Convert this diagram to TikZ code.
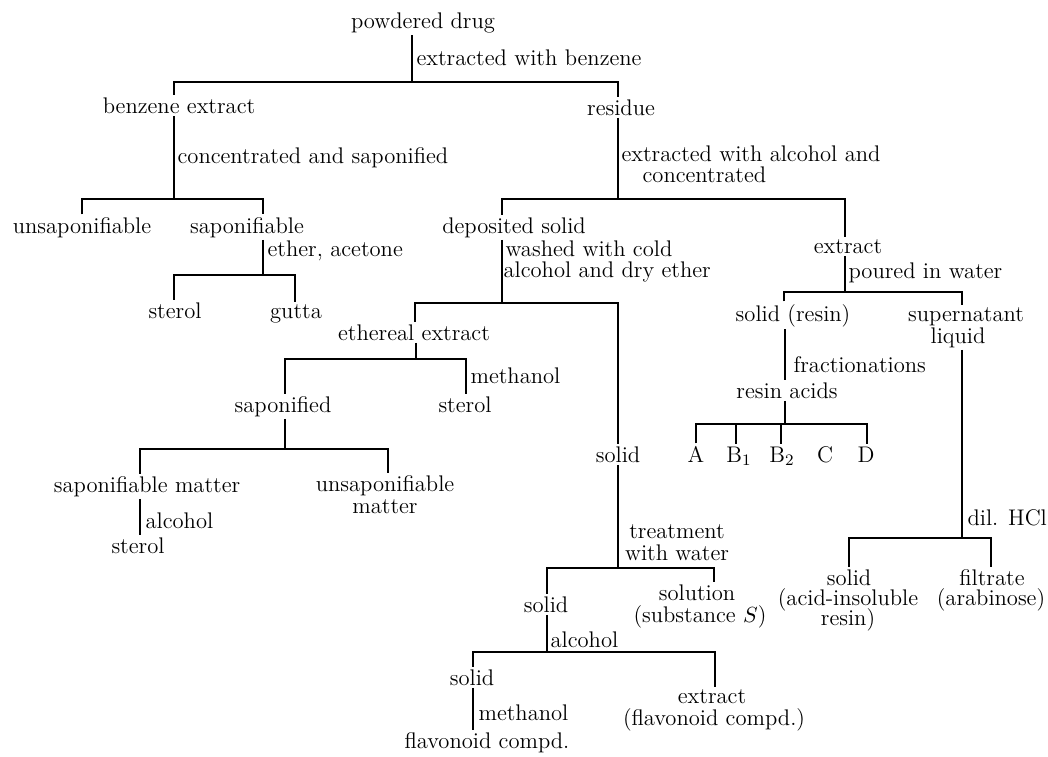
\documentclass[tikz,border=0pt]{standalone}
\begin{document}
\begin{tikzpicture}[x=0.5pt,y=-0.5pt,line width=0.6pt,
  font=\fontsize{11.3}{12}\selectfont,
  nd/.style={inner sep=1pt,anchor=base},
  lab/.style={inner sep=0pt,anchor=base west}]
\useasboundingbox (0,0) rectangle (1048,756);
% ---- nodes
\node[nd] (pd) at (423,28) {powdered drug};
\node[lab] (lbenz) at (416,65) {extracted with benzene};
\node[nd] (be) at (179,113) {benzene extract};
\node[nd] (re) at (621,115) {residue};
\node[lab] (lcs) at (177,163) {concentrated and saponified};
\node[lab] (lea1) at (621,161) {extracted with alcohol and};
\node[lab] (lea2) at (642,182) {concentrated};
\node[nd] (uns) at (82,233) {unsaponifiable};
\node[nd] (sap) at (247,233) {saponifiable};
\node[nd] (ds) at (514,233) {deposited solid};
\node[nd] (ex) at (848,253) {extract};
\node[lab] (let) at (267,256) {ether, acetone};
\node[lab] (lwa1) at (505,256) {washed with cold};
\node[lab] (lwa2) at (503,277) {alcohol and dry ether};
\node[lab] (lpw) at (848,278) {poured in water};
\node[nd] (st1) at (175,318) {sterol};
\node[nd] (gu) at (296,318) {gutta};
\node[nd] (sr) at (793,321) {solid (resin)};
\node[nd] (sn1) at (966,321) {supernatant};
\node[nd] (sn2) at (958,343) {liquid};
\node[nd] (ee) at (414,340) {ethereal extract};
\node[lab] (lfr) at (793,372) {fractionations};
\node[lab] (lme1) at (470,383) {methanol};
\node[nd] (rac) at (787,398) {resin acids};
\node[nd] (spd) at (283,412) {saponified};
\node[nd] (st2) at (465,412) {sterol};
\node[nd] (rA) at (696,462) {A};
\node[nd] (rB1) at (739,462) {B$_1$};
\node[nd] (rB2) at (782,462) {B$_2$};
\node[nd] (rC) at (825,462) {C};
\node[nd] (rD) at (866,462) {D};
\node[nd] (so1) at (618,462) {solid};
\node[nd] (spm) at (147,492) {saponifiable matter};
\node[nd] (usm) at (385,491) {unsaponifiable};
\node[nd] (usm2) at (385,513) {matter};
\node[lab] (ldil) at (967,525) {dil. HCl};
\node[lab] (lal1) at (145,528) {alcohol};
\node[nd] (st3) at (138,553) {sterol};
\node[nd] (ltr1) at (677,538) {treatment};
\node[nd] (ltr2) at (677,560) {with water};
\node[nd] (sa) at (849,585) {solid};
\node[nd] (sa2) at (848,605) {(acid-insoluble};
\node[nd] (sa3) at (848,625) {resin)};
\node[nd] (fi) at (992,585) {filtrate};
\node[nd] (fi2) at (991,605) {(arabinose)};
\node[nd] (so2) at (697,600) {solution};
\node[nd] (so2b) at (700,622) {(substance $S$)};
\node[nd] (so3) at (546,612) {solid};
\node[lab] (lal2) at (550,647) {alcohol};
\node[nd] (so4) at (472,685) {solid};
\node[nd] (ex2) at (712,703) {extract};
\node[nd] (ex2b) at (714,725) {(flavonoid compd.)};
\node[lab] (lme2) at (478,720) {methanol};
\node[nd] (fc) at (487,748) {flavonoid compd.};
% ---- junction coordinates
\coordinate (j0) at (412,82);  \coordinate (b0L) at (174,82);  \coordinate (b0R) at (618,82);
\coordinate (j1) at (174,199); \coordinate (b1L) at (82,199);  \coordinate (b1R) at (263,199);
\coordinate (j2) at (263,275); \coordinate (b2L) at (174,275); \coordinate (b2R) at (295,275);
\coordinate (j3) at (618,199); \coordinate (b3L) at (502,199); \coordinate (b3R) at (845,199);
\coordinate (j4) at (502,303); \coordinate (b4L) at (415,303); \coordinate (b4R) at (618,303);
\coordinate (j5) at (416,359); \coordinate (b5L) at (285,359); \coordinate (b5R) at (466,359);
\coordinate (j6) at (285,449); \coordinate (b6L) at (140,449); \coordinate (b6R) at (388,449);
\coordinate (x8) at (140,0);
\coordinate (j7) at (845,292); \coordinate (b7L) at (784,292); \coordinate (b7R) at (962,292);
\coordinate (x10) at (785,0);
\coordinate (j8) at (785,424); \coordinate (tA) at (696,424); \coordinate (tB1) at (736,424);
\coordinate (tB2) at (781,424); \coordinate (tD) at (867,424);
\coordinate (j9) at (962,538); \coordinate (b9L) at (849,538); \coordinate (b9R) at (991,538);
\coordinate (j10) at (618,568); \coordinate (b10L) at (547,568); \coordinate (b10R) at (714,568);
\coordinate (j11) at (547,652); \coordinate (b11L) at (473,652); \coordinate (b11R) at (715,652);
\coordinate (x15) at (473,0);
% ---- connectors
\draw (pd.south -| j0) -- (j0);
\draw (be.north -| b0L) |- (b0R) -- (b0R |- re.north);
\draw (be.south -| j1) -- (j1);
\draw (uns.north -| b1L) |- (b1R) -- (b1R |- sap.north);
\draw (sap.south -| j2) -- (j2);
\draw (st1.north -| b2L) |- (b2R) -- (b2R |- gu.north);
\draw (re.south -| j3) -- (j3);
\draw (ds.north -| b3L) |- (b3R) -- (b3R |- ex.north);
\draw (ds.south -| j4) -- (j4);
\draw (ee.north -| b4L) |- (b4R) -- (b4R |- so1.north);
\draw (ee.south -| j5) -- (j5);
\draw (spd.north -| b5L) |- (b5R) -- (b5R |- st2.north);
\draw (spd.south -| j6) -- (j6);
\draw (spm.north -| b6L) |- (b6R) -- (b6R |- usm.north);
\draw (spm.south -| x8) -- (st3.north -| x8);
\draw (ex.south -| j7) -- (j7);
\draw (sr.north -| b7L) |- (b7R) -- (b7R |- sn1.north);
\draw (sr.south -| x10) -- (rac.north -| x10);
\draw (rac.south -| j8) -- (j8);
\draw (rA.north -| tA) |- (tD) -- (tD |- rD.north);
\draw (rB1.north -| tB1) -- (tB1);
\draw (rB2.north -| tB2) -- (tB2);
\draw (sn2.south -| j9) -- (j9);
\draw (sa.north -| b9L) |- (b9R) -- (b9R |- fi.north);
\draw (so1.south -| j10) -- (j10);
\draw (so3.north -| b10L) |- (b10R) -- (b10R |- so2.north);
\draw (so3.south -| j11) -- (j11);
\draw (so4.north -| b11L) |- (b11R) -- (b11R |- ex2.north);
\draw (so4.south -| x15) -- (fc.north -| x15);
\end{tikzpicture}
\end{document}
